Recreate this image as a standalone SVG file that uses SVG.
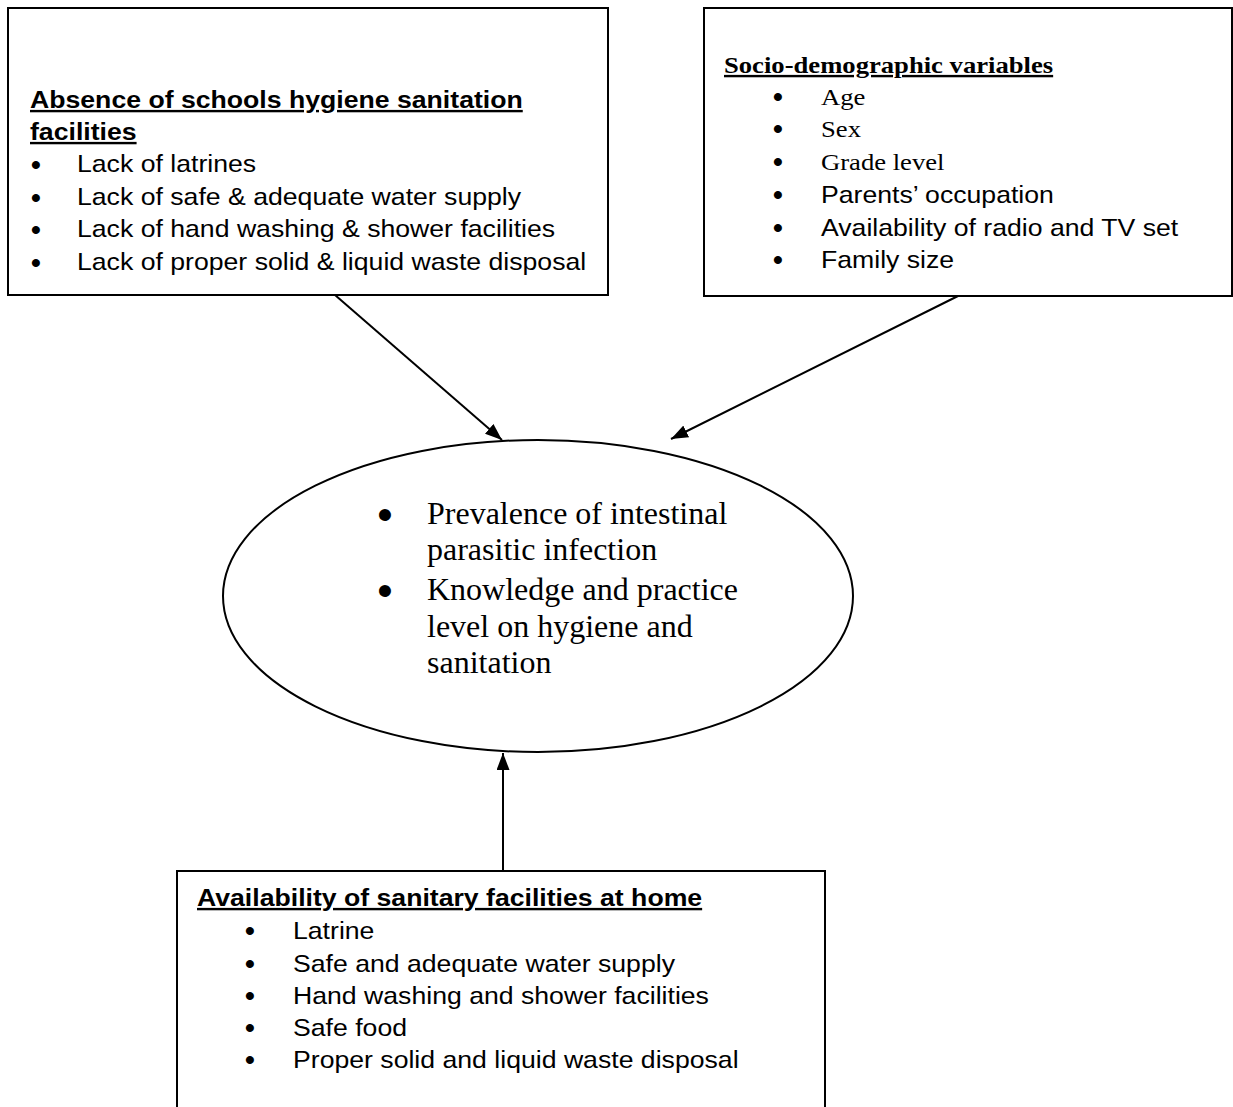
<svg xmlns="http://www.w3.org/2000/svg" width="1233" height="1107" viewBox="0 0 1233 1107">
<defs>
<marker id="ah" viewBox="0 0 17 13" refX="17" refY="6.5" markerWidth="17" markerHeight="13" markerUnits="userSpaceOnUse" orient="auto">
<path d="M0,0 L17,6.5 L0,13 z" fill="#000"/>
</marker>
<style>
.box{fill:#fff;stroke:#000;stroke-width:2}
.a{font-family:"Liberation Sans",Arial,sans-serif;font-size:24px;fill:#000}
.ab{font-family:"Liberation Sans",Arial,sans-serif;font-size:24px;font-weight:bold;fill:#000;text-decoration:underline}
.t{font-family:"Liberation Serif","Times New Roman",serif;font-size:24px;fill:#000}
.tb{font-family:"Liberation Serif","Times New Roman",serif;font-size:24px;font-weight:bold;fill:#000;text-decoration:underline}
.tl{font-family:"Liberation Serif","Times New Roman",serif;font-size:32px;fill:#000}
.bu{font-family:"Liberation Sans",Arial,sans-serif;font-size:28px;font-weight:bold;fill:#000;text-anchor:middle}
.bl{font-family:"Liberation Sans",Arial,sans-serif;font-size:44px;fill:#000;text-anchor:middle}
.conn{stroke:#000;stroke-width:2;fill:none}
</style>
</defs>
<rect width="1233" height="1107" fill="#fff"/>
<g id="connectors">
<line class="conn" x1="335" y1="295" x2="502" y2="440" marker-end="url(#ah)"/>
<line class="conn" x1="958" y1="296" x2="671" y2="439" marker-end="url(#ah)"/>
<line class="conn" x1="503" y1="871" x2="503" y2="753" marker-end="url(#ah)"/>
</g>
<g id="school">
<rect class="box" x="8" y="8" width="600" height="287"/>
<g transform="matrix(1.11,0,0,1,30,0)">
<text class="ab" x="0" y="108">Absence of schools hygiene sanitation</text>
<text class="ab" x="0" y="140">facilities</text>
</g>
<text class="bu" x="36" y="174">•</text>
<text class="bu" x="36" y="207">•</text>
<text class="bu" x="36" y="239">•</text>
<text class="bu" x="36" y="272">•</text>
<g class="a" transform="matrix(1.11,0,0,1,77,0)">
<text x="0" y="172">Lack of latrines</text>
<text x="0" y="205">Lack of safe &amp; adequate water supply</text>
<text x="0" y="237">Lack of hand washing &amp; shower facilities</text>
<text x="0" y="270">Lack of proper solid &amp; liquid waste disposal</text>
</g>
</g>
<g id="socio">
<rect class="box" x="704" y="8" width="528" height="288"/>
<g transform="matrix(1.11,0,0,1,724,0)">
<text class="tb" x="0" y="73">Socio-demographic variables</text>
</g>
<text class="bu" x="778" y="106">•</text>
<text class="bu" x="778" y="138">•</text>
<text class="bu" x="778" y="171">•</text>
<text class="bu" x="778" y="204">•</text>
<text class="bu" x="778" y="237">•</text>
<text class="bu" x="778" y="269">•</text>
<g transform="matrix(1.11,0,0,1,821,0)">
<text class="t" x="0" y="105">Age</text>
<text class="t" x="0" y="137">Sex</text>
<text class="t" x="0" y="170">Grade level</text>
<text class="a" x="0" y="203">Parents’ occupation</text>
<text class="a" x="0" y="236">Availability of radio and TV set</text>
<text class="a" x="0" y="268">Family size</text>
</g>
</g>
<g id="outcome">
<ellipse class="box" cx="538" cy="596" rx="315" ry="156"/>
<text class="bl" x="385" y="530">•</text>
<text class="bl" x="385" y="606">•</text>
<text class="tl" x="427" y="524">Prevalence of intestinal</text>
<text class="tl" x="427" y="560">parasitic infection</text>
<text class="tl" x="427" y="600">Knowledge and practice</text>
<text class="tl" x="427" y="637">level on hygiene and</text>
<text class="tl" x="427" y="673">sanitation</text>
</g>
<g id="home">
<rect class="box" x="177" y="871" width="648" height="250"/>
<g transform="matrix(1.11,0,0,1,197,0)">
<text class="ab" x="0" y="906">Availability of sanitary facilities at home</text>
</g>
<text class="bu" x="250" y="940">•</text>
<text class="bu" x="250" y="973">•</text>
<text class="bu" x="250" y="1005">•</text>
<text class="bu" x="250" y="1037">•</text>
<text class="bu" x="250" y="1069">•</text>
<g class="a" transform="matrix(1.11,0,0,1,293,0)">
<text x="0" y="939">Latrine</text>
<text x="0" y="972">Safe and adequate water supply</text>
<text x="0" y="1004">Hand washing and shower facilities</text>
<text x="0" y="1036">Safe food</text>
<text x="0" y="1068">Proper solid and liquid waste disposal</text>
</g>
</g>
</svg>
